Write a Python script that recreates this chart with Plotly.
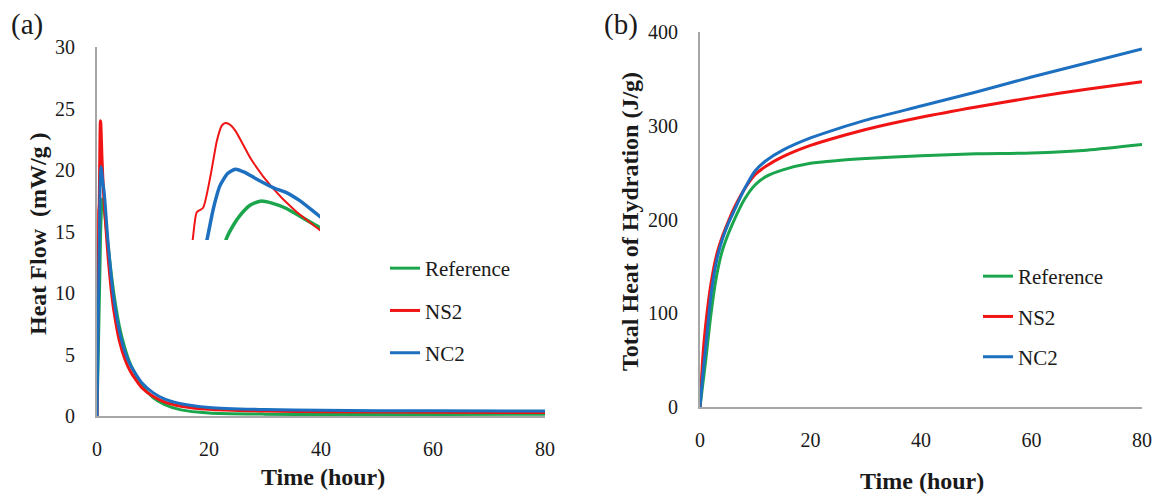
import plotly.graph_objects as go

W, H = 1158, 498

# ---------------- data: heat flow (mW/g) ----------------
ns2_t = [0, 0.2, 0.28, 0.32, 0.385, 0.46, 0.53, 0.58, 0.61, 0.66, 0.72, 0.89, 1.10, 1.34, 1.6,
         2, 2.5, 3, 4, 5, 6, 8, 10, 12, 15, 20, 30, 40, 60, 80]
ns2_flow = [0, 10.0, 14.65, 16.76, 17.1, 19.6, 22.6, 23.8, 24.0, 23.9, 23.4, 21.0, 18.8, 16.9, 15.3,
            12.8, 10.4, 8.6, 6.1, 4.6, 3.6, 2.3, 1.6, 1.15, 0.8, 0.55, 0.4, 0.35, 0.3, 0.28]

nc2_t = [0, 0.38, 0.43, 0.48, 0.51, 0.56, 0.64, 0.72, 0.82, 0.93, 1.13, 1.24, 1.39, 1.6,
         2, 2.5, 3, 4, 5, 6, 8, 10, 12, 15, 20, 30, 40, 60, 80]
nc2_flow = [0, 13.0, 14.65, 16.6, 17.6, 18.9, 19.9, 20.26, 20.0, 19.5, 18.7, 18.4, 17.7, 16.4,
            14.0, 11.5, 9.5, 6.9, 5.2, 4.1, 2.7, 1.9, 1.4, 1.0, 0.7, 0.52, 0.46, 0.42, 0.4]

ref_t = [0, 0.55, 0.63, 0.7, 0.77, 0.87, 0.98, 1.1, 1.24, 1.4, 1.6,
         2, 2.5, 3, 4, 5, 6, 8, 10, 12, 15, 20, 30, 40, 60, 80]
ref_flow = [0, 12.5, 14.65, 15.7, 16.5, 17.3, 17.66, 17.5, 17.1, 16.4, 15.5,
            13.8, 11.8, 10.0, 7.3, 5.5, 4.2, 2.5, 1.5, 0.95, 0.5, 0.25, 0.15, 0.12, 0.12, 0.15]

# ---------------- data: total heat of hydration (J/g) ----------------
heat_t = [0, 0.5, 1, 2, 3, 4, 5, 6, 8, 10, 12, 15, 20, 25, 30, 40, 50, 60, 70, 80]
ref_heat = [0, 24, 48, 100, 140, 166, 183, 197, 221, 237, 246, 253, 260, 263, 265, 268, 270, 271, 274, 280]
ns2_heat = [0, 52, 86, 132, 162, 181, 196, 210, 232, 248, 257, 267, 279, 288, 296, 309, 320, 330, 339, 347]
nc2_heat = [0, 34, 62, 120, 156, 178, 194, 207, 232, 252, 263, 274, 287, 297, 306, 321, 336, 352, 367, 382]

names = ["Reference", "NS2", "NC2"]
colors = ["#1ba54c", "#f01414", "#1d6fc0"]

flow_series = [(ref_t, ref_flow), (ns2_t, ns2_flow), (nc2_t, nc2_flow)]
heat_series = [ref_heat, ns2_heat, nc2_heat]

fig = go.Figure()

for i, (name, col, (tt, vv)) in enumerate(zip(names, colors, flow_series)):
    fig.add_trace(go.Scatter(x=tt, y=vv, mode="lines", name=name,
                             line=dict(color=col, width=3, shape="spline", smoothing=0.6),
                             xaxis="x", yaxis="y", legend="legend", legendgroup="a" + name))
# inset (zoom of the peak)
inset_w = [3.5, 2, 3.5]
for i, (name, col, (tt, vv)) in enumerate(zip(names, colors, flow_series)):
    fig.add_trace(go.Scatter(x=tt, y=vv, mode="lines", name=name, showlegend=False,
                             line=dict(color=col, width=inset_w[i], shape="spline", smoothing=0.6),
                             xaxis="x3", yaxis="y3"))
for name, col, vv in zip(names, colors, heat_series):
    fig.add_trace(go.Scatter(x=heat_t, y=vv, mode="lines", name=name,
                             line=dict(color=col, width=3, shape="spline", smoothing=0.7),
                             xaxis="x2", yaxis="y2", legend="legend2", legendgroup="b" + name))

def px(x):
    return x / W

def py(y):
    return 1 - y / H

SERIF = "Liberation Serif, Times New Roman, serif"
tickfont = dict(family=SERIF, size=20, color="#1a1a1a")
axcol = "#a6a6a6"

common_x = dict(showgrid=False, zeroline=False, showline=True, linecolor=axcol, linewidth=2,
                ticks="", tickfont=tickfont, ticklabelstandoff=14, tick0=0, dtick=20,
                automargin=False)
common_y = dict(showgrid=False, zeroline=False, showline=True, linecolor=axcol, linewidth=2,
                ticks="", tickfont=tickfont, ticklabelstandoff=16, automargin=False)

fig.update_layout(
    width=W, height=H,
    margin=dict(l=0, r=0, t=0, b=0, pad=0, autoexpand=False),
    paper_bgcolor="white", plot_bgcolor="rgba(0,0,0,0)",
    xaxis=dict(common_x, domain=[px(97), px(545)], range=[0, 80], anchor="y"),
    yaxis=dict(common_y, domain=[py(416), py(47)], range=[0, 30], dtick=5, anchor="x"),
    xaxis2=dict(common_x, domain=[px(700), px(1142)], range=[0, 80], anchor="y2"),
    yaxis2=dict(common_y, domain=[py(407), py(32)], range=[0, 400], dtick=100, anchor="x2"),
    xaxis3=dict(domain=[px(190), px(320)], range=[0.25, 1.6], visible=False, anchor="y3",
                automargin=False),
    yaxis3=dict(domain=[py(240), py(120)], range=[14.5, 24.26], visible=False, anchor="x3",
                automargin=False),
    showlegend=True,
    legend=dict(x=px(385), y=py(248), xanchor="left", yanchor="top",
                font=dict(family=SERIF, size=21, color="#1a1a1a"),
                bgcolor="rgba(0,0,0,0)", tracegroupgap=12, traceorder="grouped"),
    legend2=dict(x=px(978), y=py(256), xanchor="left", yanchor="top",
                 font=dict(family=SERIF, size=21, color="#1a1a1a"),
                 bgcolor="rgba(0,0,0,0)", tracegroupgap=10, traceorder="grouped"),
)

titlefont = dict(family=SERIF, size=24, color="#1a1a1a")
ann = [
    dict(text="<b>Time (hour)</b>", x=px(323), y=py(477)),
    dict(text="<b>Time (hour)</b>", x=px(922), y=py(481)),
    dict(text="<b>Heat Flow \u00a0(mW/g )</b>", x=px(38), y=py(234), textangle=-90),
    dict(text="<b>Total Heat of Hydration (J/g)</b>", x=px(630), y=py(222), textangle=-90),
]
for a in ann:
    fig.add_annotation(xref="paper", yref="paper", showarrow=False, font=titlefont,
                       xanchor="center", yanchor="middle", **a)
for lab, x0 in [("(a)", 27), ("(b)", 621)]:
    fig.add_annotation(text=lab, xref="paper", yref="paper", x=px(x0), y=py(24), showarrow=False,
                       font=dict(family=SERIF, size=29, color="#1a1a1a"),
                       xanchor="center", yanchor="middle")

fig.write_html("out.html")
